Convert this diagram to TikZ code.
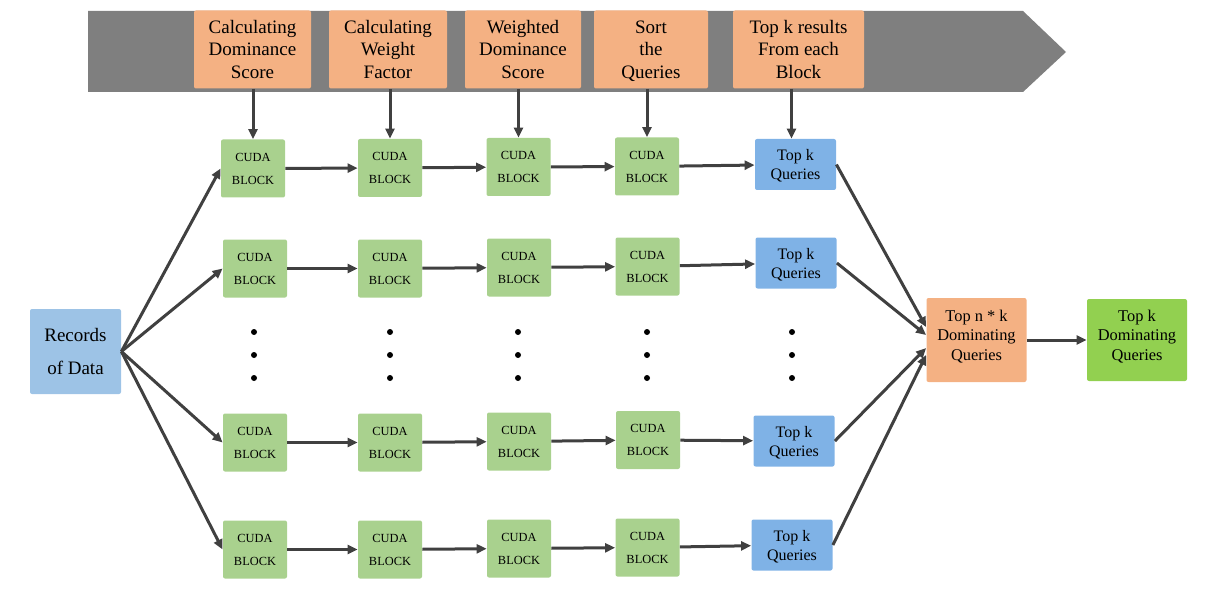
\documentclass[tikz,border=0pt]{standalone}
\usepackage{fontspec}
\setmainfont{Liberation Serif}
\usetikzlibrary{positioning,arrows.meta}
\definecolor{bannergray}{HTML}{7F7F7F}
\definecolor{stageorange}{HTML}{F4B183}
\definecolor{cudagreen}{HTML}{A9D18E}
\definecolor{topkblue}{HTML}{7FB2E6}
\definecolor{recblue}{HTML}{9DC3E6}
\definecolor{finalgreen}{HTML}{92D050}
\definecolor{arrowgray}{HTML}{404040}
\tikzset{
	flow/.style={-{Triangle[length=5pt,width=4.5pt]}, line width=1.5pt, draw=arrowgray}, % the dark connectors
	box/.style={inner sep=0pt, align=center, rounded corners=1pt, text=black},
	stage/.style={box, fill=stageorange, minimum height=39pt, font=\fontsize{9.5}{11.3}\selectfont,
		text height=31.4pt, text depth=2.3pt}, % fixed sizes keep all stage texts level
	cuda/.style={box, fill=cudagreen, minimum width=32pt, minimum height=29pt, font=\fontsize{6.2}{11.5}\selectfont},
	topk/.style={box, fill=topkblue, minimum width=40.5pt, minimum height=25.5pt, font=\fontsize{8}{9.5}\selectfont,
		text height=17.2pt, text depth=2pt},
	result/.style={box, minimum width=50pt, font=\fontsize{8.2}{9.7}\selectfont,
		text height=25pt, text depth=4.8pt},
	vdot/.style={fill=black},
}

\begin{document}
\begin{tikzpicture}[x=0.5pt,y=-0.5pt]
		\useasboundingbox (0,0) rectangle (1222,599);
		% banner behind the stage names
		\fill[bannergray] (88,11) -- (1023,11) -- (1066,52) -- (1023,92) -- (88,92) -- cycle;
		\node[stage,minimum width=58.5pt] (s1) at (252.5,49.5) {Calculating\\Dominance\\Score};
		\node[stage,minimum width=59pt] (s2) at (388,49.5) {Calculating\\Weight\\Factor};
		\node[stage,minimum width=58pt] (s3) at (523,49.5) {Weighted\\Dominance\\Score};
		\node[stage,minimum width=57pt] (s4) at (651,49.5) {Sort\\the\\Queries};
		\node[stage,minimum width=65.5pt] (s5) at (798.5,49.5) {Top k results\\From each\\Block};
		
		% cuda blocks, row by row
		\node[cuda] (c11) at (253,168.5) {CUDA\\BLOCK};
		\node[cuda] (c12) at (390,168) {CUDA\\BLOCK};
		\node[cuda] (c13) at (518.5,167) {CUDA\\BLOCK};
		\node[cuda] (c14) at (647,166.5) {CUDA\\BLOCK};
		\node[topk] (t1) at (795.5,164.5) {Top k\\Queries};
		
		\node[cuda] (c21) at (255,268.5) {CUDA\\BLOCK};
		\node[cuda] (c22) at (390,268.5) {CUDA\\BLOCK};
		\node[cuda] (c23) at (519,267.5) {CUDA\\BLOCK};
		\node[cuda] (c24) at (647.5,266.5) {CUDA\\BLOCK};
		\node[topk] (t2) at (796,263) {Top k\\Queries};
		
		\node[cuda] (c31) at (255,442.5) {CUDA\\BLOCK};
		\node[cuda] (c32) at (390,442.5) {CUDA\\BLOCK};
		\node[cuda] (c33) at (519,441.5) {CUDA\\BLOCK};
		\node[cuda] (c34) at (648,440) {CUDA\\BLOCK};
		\node[topk] (t3) at (794,441) {Top k\\Queries};
		
		\node[cuda] (c41) at (255,549.5) {CUDA\\BLOCK};
		\node[cuda] (c42) at (390,549.5) {CUDA\\BLOCK};
		\node[cuda] (c43) at (519,548.5) {CUDA\\BLOCK};
		\node[cuda] (c44) at (647.5,547.5) {CUDA\\BLOCK};
		\node[topk] (t4) at (792,545) {Top k\\Queries};
		
		\node[box,fill=recblue,minimum width=45.5pt,minimum height=42.5pt,font=\fontsize{9.5}{16.5}\selectfont] (rec) at (75.5,351.5) {Records\\of Data};
		\node[result,fill=stageorange,minimum height=42pt] (nk) at (976.5,340) {Top n * k\\Dominating\\Queries};
		\node[result,fill=finalgreen,minimum height=41pt] (fin) at (1137,340) {Top k\\Dominating\\Queries};
		
		% the dots between the rows
		\foreach \x in {254,390,518,647,792}
			\foreach \y in {332,355,378}
				\fill[vdot] (\x,\y) circle[radius=1.5pt];
		
		% stage arrows
		\draw[flow] (c11 |- s1.south) -- (c11.north);
		\draw[flow] (c12 |- s2.south) -- (c12.north);
		\draw[flow] (c13 |- s3.south) -- (c13.north);
		\draw[flow] (c14 |- s4.south) -- (c14.north);
		\draw[flow] ([xshift=-2pt]t1 |- s5.south) -- ([xshift=-2pt]t1.north);
		
		% from the records to the first blocks
		\draw[flow] (rec.east) -- (c11.west);
		\draw[flow] (rec.east) -- (c21.west);
		\draw[flow] (rec.east) -- (c31.west);
		\draw[flow] (rec.east) -- (c41.west);
		
		% along each row
		\draw[flow] (c11) -- (c12);
		\draw[flow] (c12) -- (c13);
		\draw[flow] (c13) -- (c14);
		\draw[flow] (c14) -- (t1);
		\draw[flow] (c21) -- (c22);
		\draw[flow] (c22) -- (c23);
		\draw[flow] (c23) -- (c24);
		\draw[flow] (c24) -- (t2);
		\draw[flow] (c31) -- (c32);
		\draw[flow] (c32) -- (c33);
		\draw[flow] (c33) -- (c34);
		\draw[flow] (c34) -- (t3);
		\draw[flow] (c41) -- (c42);
		\draw[flow] (c42) -- (c43);
		\draw[flow] (c43) -- (c44);
		\draw[flow] (c44) -- (t4);
		
		% gathering the results
		\draw[flow] (t1.east) -- ([yshift=6.5pt]nk.west);
		\draw[flow] (t2.east) -- ([yshift=2.5pt]nk.west);
		\draw[flow] (t3.east) -- ([yshift=-4pt]nk.west);
		\draw[flow] (t4.east) -- ([yshift=-7.5pt]nk.west);
		\draw[flow] (nk) -- (fin);
	\end{tikzpicture}
\end{document}
